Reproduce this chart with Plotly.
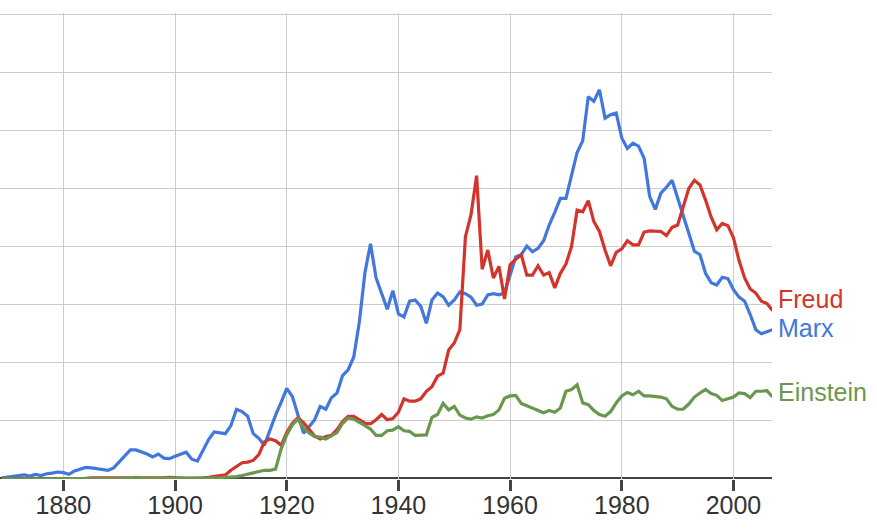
import plotly.graph_objects as go

years = list(range(1869, 2008))

marx = [
    0.02, 0.03, 0.04, 0.06, 0.07, 0.05, 0.08, 0.06, 0.09, 0.10,  # 1869-1878
    0.12, 0.11, 0.08, 0.14, 0.17, 0.20, 0.19, 0.18, 0.17, 0.15,  # 1879-1888
    0.19, 0.30, 0.40, 0.50, 0.50, 0.47, 0.43, 0.38, 0.43, 0.36,  # 1889-1898
    0.35, 0.39, 0.43, 0.46, 0.34, 0.31, 0.49, 0.68, 0.81, 0.80,  # 1899-1908
    0.78, 0.92, 1.20, 1.16, 1.08, 0.78, 0.70, 0.58, 0.85, 1.10,  # 1909-1918
    1.32, 1.56, 1.42, 1.09, 0.79, 0.90, 1.02, 1.25, 1.20, 1.40,  # 1919-1928
    1.48, 1.78, 1.88, 2.10, 2.70, 3.55, 4.05, 3.46, 3.17, 2.92,  # 1929-1938
    3.24, 2.84, 2.79, 3.06, 3.08, 2.97, 2.68, 3.08, 3.20, 3.14,  # 1939-1948
    2.99, 3.08, 3.22, 3.19, 3.13, 2.99, 3.01, 3.17, 3.19, 3.17,  # 1949-1958
    3.20, 3.49, 3.82, 3.86, 4.01, 3.91, 3.97, 4.10, 4.37, 4.59,  # 1959-1968
    4.83, 4.83, 5.25, 5.62, 5.82, 6.58, 6.50, 6.70, 6.21, 6.27,  # 1969-1978
    6.30, 5.87, 5.69, 5.78, 5.73, 5.52, 4.86, 4.64, 4.92, 5.02,  # 1979-1988
    5.14, 4.85, 4.56, 4.23, 3.92, 3.86, 3.54, 3.38, 3.34, 3.47,  # 1989-1998
    3.45, 3.26, 3.13, 3.06, 2.83, 2.57, 2.50, 2.53, 2.57,        # 1999-2007
]

freud = [
    0.00, 0.00, 0.00, 0.00, 0.00, 0.00, 0.00, 0.00, 0.00, 0.00,  # 1869-1878
    0.00, 0.00, 0.00, 0.01, 0.01, 0.01, 0.02, 0.02, 0.01, 0.01,  # 1879-1888
    0.01, 0.01, 0.01, 0.01, 0.01, 0.01, 0.01, 0.01, 0.02, 0.02,  # 1889-1898
    0.03, 0.02, 0.02, 0.01, 0.01, 0.01, 0.02, 0.03, 0.04, 0.05,  # 1899-1908
    0.07, 0.15, 0.22, 0.28, 0.29, 0.32, 0.42, 0.64, 0.69, 0.66,  # 1909-1918
    0.58, 0.80, 0.96, 1.05, 0.97, 0.86, 0.74, 0.69, 0.73, 0.75,  # 1919-1928
    0.85, 0.99, 1.08, 1.08, 1.02, 0.96, 0.95, 1.02, 1.11, 1.02,  # 1929-1938
    1.04, 1.15, 1.38, 1.34, 1.34, 1.38, 1.51, 1.59, 1.77, 1.82,  # 1939-1948
    2.22, 2.34, 2.57, 4.17, 4.55, 5.22, 3.61, 3.94, 3.46, 3.66,  # 1949-1958
    3.10, 3.69, 3.78, 3.86, 3.51, 3.51, 3.67, 3.51, 3.55, 3.29,  # 1959-1968
    3.54, 3.70, 4.00, 4.63, 4.60, 4.79, 4.43, 4.26, 3.94, 3.67,  # 1969-1978
    3.90, 3.96, 4.10, 4.03, 4.03, 4.25, 4.27, 4.26, 4.26, 4.19,  # 1979-1988
    4.33, 4.37, 4.69, 5.00, 5.14, 5.06, 4.80, 4.51, 4.29, 4.40,  # 1989-1998
    4.36, 4.15, 3.76, 3.46, 3.27, 3.20, 3.06, 3.02, 2.90,        # 1999-2007
]

einstein = [
    0.00, 0.00, 0.00, 0.00, 0.00, 0.00, 0.00, 0.00, 0.00, 0.00,  # 1869-1878
    0.00, 0.00, 0.00, 0.00, 0.00, 0.00, 0.00, 0.00, 0.01, 0.01,  # 1879-1888
    0.01, 0.01, 0.01, 0.02, 0.03, 0.02, 0.01, 0.01, 0.01, 0.01,  # 1889-1898
    0.01, 0.01, 0.01, 0.01, 0.01, 0.01, 0.01, 0.01, 0.02, 0.02,  # 1899-1908
    0.03, 0.03, 0.04, 0.06, 0.08, 0.10, 0.13, 0.15, 0.15, 0.17,  # 1909-1918
    0.52, 0.76, 0.93, 1.03, 0.88, 0.79, 0.73, 0.72, 0.69, 0.74,  # 1919-1928
    0.80, 0.96, 1.05, 1.03, 0.98, 0.92, 0.86, 0.75, 0.75, 0.83,  # 1929-1938
    0.84, 0.90, 0.83, 0.82, 0.75, 0.75, 0.76, 1.06, 1.11, 1.30,  # 1939-1948
    1.19, 1.25, 1.10, 1.05, 1.03, 1.07, 1.05, 1.09, 1.11, 1.19,  # 1949-1958
    1.39, 1.43, 1.44, 1.30, 1.26, 1.22, 1.18, 1.14, 1.18, 1.15,  # 1959-1968
    1.22, 1.51, 1.54, 1.62, 1.31, 1.28, 1.18, 1.11, 1.08, 1.16,  # 1969-1978
    1.31, 1.43, 1.49, 1.45, 1.51, 1.43, 1.43, 1.42, 1.41, 1.38,  # 1979-1988
    1.25, 1.20, 1.20, 1.29, 1.41, 1.48, 1.54, 1.47, 1.44, 1.35,  # 1989-1998
    1.38, 1.41, 1.48, 1.47, 1.40, 1.51, 1.51, 1.52, 1.41,        # 1999-2007
]

names = ["Marx", "Freud", "Einstein"]
colors = {"Marx": "#4277DE", "Freud": "#D3352D", "Einstein": "#6A974E"}
series = {"Marx": marx, "Freud": freud, "Einstein": einstein}
label_y = {"Freud": 3.10, "Marx": 2.60, "Einstein": 1.50}
tick_years = [1880, 1900, 1920, 1940, 1960, 1980, 2000]

fig = go.Figure()
for n in names:
    fig.add_trace(go.Scatter(
        x=years, y=series[n], mode="lines", name=n,
        line=dict(color=colors[n], width=3.2),
        hoverinfo="x+y+name",
    ))

for n in names:
    fig.add_annotation(
        x=1, xref="paper", y=label_y[n], yref="y",
        text=n, showarrow=False, xanchor="left", yanchor="middle",
        xshift=4, font=dict(family="Liberation Sans, Arial, sans-serif", size=25, color=colors[n]),
    )

# baseline
fig.add_shape(type="line", xref="paper", x0=0, x1=1, yref="y", y0=0, y1=0,
              line=dict(color="#444444", width=4), layer="below")

fig.update_layout(
    width=877, height=529,
    margin=dict(l=0, r=105, t=13, b=50, autoexpand=False),
    paper_bgcolor="white", plot_bgcolor="white",
    showlegend=False,
    font=dict(family="Liberation Sans, Arial, sans-serif", color="#333333"),
    xaxis=dict(
        range=[1868.65, 2006.9],
        tickvals=tick_years, ticktext=[str(t) for t in tick_years],
        showgrid=True, gridcolor="#cccccc", gridwidth=1,
        zeroline=False, showline=False, automargin=False,
        ticks="outside", ticklen=11, tickwidth=3, tickcolor="#444444",
        ticklabelstandoff=-7,
        tickfont=dict(size=25, color="#333333"),
    ),
    yaxis=dict(
        range=[0, 8.02], tickvals=[1, 2, 3, 4, 5, 6, 7, 8],
        showgrid=True, gridcolor="#cccccc", gridwidth=1,
        zeroline=False, showline=False, showticklabels=False, ticks="",
        automargin=False,
    ),
)

fig.write_html(
    "out.html",
    config={"displayModeBar": False},
    post_script="document.body.style.margin='0';document.body.style.padding='0';",
)
